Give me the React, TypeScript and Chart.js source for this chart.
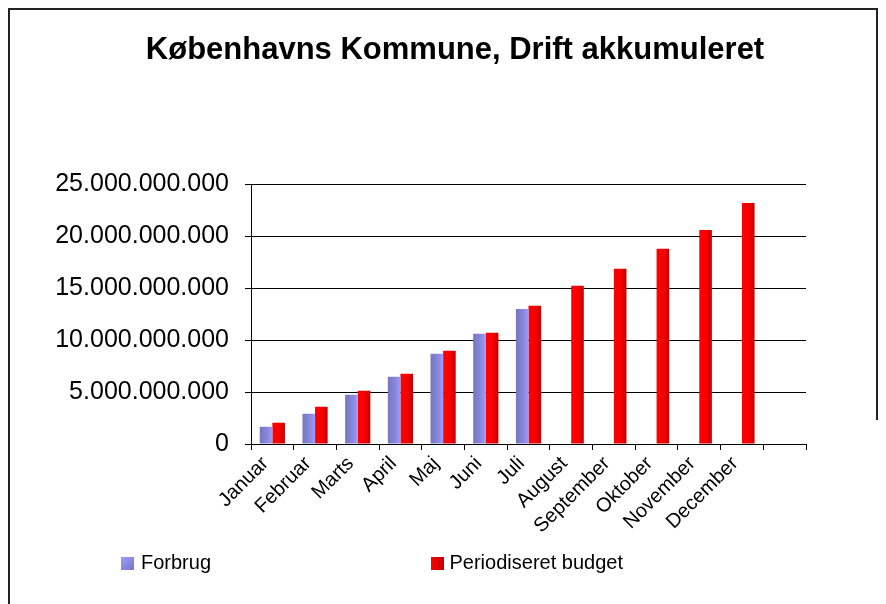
import React, { useEffect, useRef } from 'react';
import { Chart, registerables } from 'chart.js';

Chart.register(...registerables);

const chartTitle = 'Københavns Kommune, Drift akkumuleret';
const categories = ['Januar', 'Februar', 'Marts', 'April', 'Maj', 'Juni', 'Juli', 'August', 'September', 'Oktober', 'November', 'December', ''];
const seriesNames = ['Forbrug', 'Periodiseret budget'];
const forbrug = [1.66e9, 2.91e9, 4.74e9, 6.47e9, 8.68e9, 10.6e9, 13.0e9, null, null, null, null, null, null];
const budget = [2.05e9, 3.59e9, 5.13e9, 6.76e9, 8.97e9, 10.7e9, 13.3e9, 15.22e9, 16.86e9, 18.78e9, 20.6e9, 23.2e9, null];
const yMin = 0;
const yMax = 25e9;
const yStep = 5e9;

const blueStops: [number, string][] = [[0, '#7676c2'], [0.55, '#8686dc'], [1, '#9c9cff']];
const redStops: [number, string][] = [[0, '#ff0000'], [0.55, '#f80000'], [1, '#c20000']];
const gradientStops = [blueStops, redStops];

const fmt = (v: number) => String(Math.round(v)).replace(/\B(?=(\d{3})+(?!\d))/g, '.');

const FONT = 'Arial, "Liberation Sans", sans-serif';

const gradientPlugin = {
  id: 'barGradients',
  afterLayout(chart: any) {
    const t = chart.titleBlock;
    if (t) {
      t.left = 24;
      t.right = 886;
      t.width = t.right - t.left;
    }
  },
  beforeDatasetsDraw(chart: any) {
    const ctx = chart.ctx;
    chart.data.datasets.forEach((_ds: any, di: number) => {
      const meta = chart.getDatasetMeta(di);
      meta.data.forEach((bar: any) => {
        const w = bar.width;
        const x0 = bar.x - w / 2;
        const g = ctx.createLinearGradient(x0, 0, x0 + w, 0);
        gradientStops[di].forEach(([o, c]) => g.addColorStop(o, c));
        if (bar.options) bar.options.backgroundColor = g;
      });
    });
  },
};

export default function App() {
  const ref = useRef<HTMLCanvasElement>(null);

  useEffect(() => {
    if (!ref.current) return;
    const chart = new Chart(ref.current, {
      type: 'bar',
      data: {
        labels: categories,
        datasets: [
          {
            label: seriesNames[0],
            data: forbrug as any,
            backgroundColor: () => '#8585dd',
            borderWidth: 0,
            categoryPercentage: 0.59,
            barPercentage: 1,
          },
          {
            label: seriesNames[1],
            data: budget as any,
            backgroundColor: () => '#ff0000',
            borderWidth: 0,
            categoryPercentage: 0.59,
            barPercentage: 1,
          },
        ],
      },
      options: {
        animation: false,
        responsive: true,
        maintainAspectRatio: false,
        devicePixelRatio: 1,
        layout: { padding: { left: 0, right: 80, top: 0, bottom: 0 } },
        plugins: {
          legend: { display: false },
          tooltip: { enabled: false },
          title: {
            display: true,
            text: chartTitle,
            color: '#000',
            font: { family: FONT, size: 31, weight: 'bold' },
            padding: { top: 32, bottom: 115 },
          },
        },
        scales: {
          x: {
            grid: { display: true, drawOnChartArea: false, tickLength: 6, color: '#000', offset: true },
            border: { color: '#000', width: 1 },
            ticks: {
              autoSkip: false,
              minRotation: 45,
              maxRotation: 45,
              color: '#000',
              padding: 2,
              labelOffset: -7,
              font: { family: FONT, size: 20 },
            },
            afterFit: (s: any) => { s.height = 160; },
          },
          y: {
            min: yMin,
            max: yMax,
            grid: { color: '#000', tickLength: 6, lineWidth: 1 },
            border: { color: '#000', width: 1 },
            ticks: {
              stepSize: yStep,
              color: '#000',
              padding: 16,
              font: { family: FONT, size: 25 },
              callback: (v: any) => fmt(Number(v)),
            },
            afterFit: (s: any) => { s.width = 251; },
          },
        },
      },
      plugins: [gradientPlugin],
    });
    return () => chart.destroy();
  }, []);

  const legendText: React.CSSProperties = {
    position: 'absolute',
    top: 550.6,
    fontFamily: FONT,
    fontSize: 20,
    lineHeight: '23px',
    color: '#000',
    whiteSpace: 'nowrap',
  };

  return (
    <div style={{ position: 'absolute', left: 0, top: 0, width: 886, height: 604, overflow: 'hidden', background: '#fff' }}>
      <div style={{ position: 'absolute', left: 8, top: 8, width: 0, height: 596, borderLeft: '2px solid #222' }} />
      <div style={{ position: 'absolute', left: 8, top: 8, width: 870, height: 0, borderTop: '2px solid #222' }} />
      <div style={{ position: 'absolute', left: 876, top: 8, width: 0, height: 412, borderLeft: '2px solid #222' }} />
      <div style={{ position: 'absolute', left: 0, top: 0, width: 886, height: 604 }}>
        <canvas ref={ref} />
      </div>
      <div style={{ position: 'absolute', left: 121, top: 557, width: 13, height: 13, background: 'linear-gradient(135deg, #9c9cff, #7676c2)' }} />
      <div style={{ ...legendText, left: 141 }}>{seriesNames[0]}</div>
      <div style={{ position: 'absolute', left: 431, top: 557, width: 13, height: 13, background: 'linear-gradient(90deg, #ff0000, #c20000)' }} />
      <div style={{ ...legendText, left: 449.5 }}>{seriesNames[1]}</div>
    </div>
  );
}
